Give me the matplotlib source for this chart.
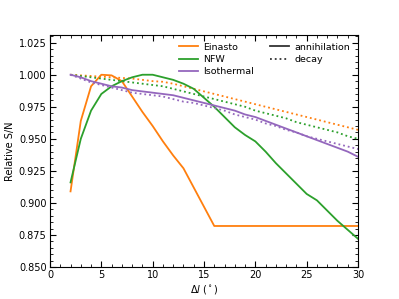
import numpy as np
import matplotlib
matplotlib.use("Agg")
import matplotlib.pyplot as plt
from matplotlib.ticker import MultipleLocator
from matplotlib.lines import Line2D

dl = list(range(2, 31))

einasto_ann = [0.909, 0.964, 0.991, 1.000, 0.9995, 0.995, 0.983, 0.971, 0.960, 0.948,
               0.937, 0.927, 0.912, 0.897, 0.882, 0.882, 0.882, 0.882, 0.882, 0.882,
               0.882, 0.882, 0.882, 0.882, 0.882, 0.882, 0.882, 0.882, 0.882]
nfw_ann = [0.916, 0.950, 0.972, 0.985, 0.991, 0.995, 0.998, 1.000, 1.000, 0.998,
           0.996, 0.993, 0.989, 0.982, 0.975, 0.967, 0.959, 0.953, 0.948, 0.940,
           0.931, 0.923, 0.915, 0.907, 0.902, 0.894, 0.886, 0.879, 0.872]
iso_ann = [1.000, 0.998, 0.995, 0.993, 0.991, 0.990, 0.988, 0.987, 0.986, 0.985,
           0.984, 0.982, 0.980, 0.978, 0.976, 0.974, 0.972, 0.969, 0.967, 0.964,
           0.961, 0.958, 0.955, 0.952, 0.949, 0.946, 0.943, 0.940, 0.936]

einasto_dec = [1.000, 0.9995, 0.999, 0.9985, 0.998, 0.9975, 0.997, 0.996, 0.995, 0.9945,
               0.993, 0.991, 0.989, 0.987, 0.985, 0.983, 0.981, 0.979, 0.977, 0.975,
               0.973, 0.971, 0.969, 0.967, 0.965, 0.963, 0.961, 0.959, 0.957]
nfw_dec = [1.000, 0.999, 0.998, 0.997, 0.996, 0.995, 0.994, 0.993, 0.992, 0.991,
           0.989, 0.987, 0.985, 0.983, 0.981, 0.979, 0.977, 0.975, 0.972, 0.970,
           0.968, 0.966, 0.963, 0.961, 0.959, 0.957, 0.955, 0.952, 0.950]
iso_dec = [1.000, 0.997, 0.994, 0.992, 0.990, 0.988, 0.986, 0.985, 0.984, 0.983,
           0.981, 0.979, 0.978, 0.976, 0.974, 0.972, 0.969, 0.967, 0.965, 0.962,
           0.960, 0.957, 0.955, 0.952, 0.950, 0.948, 0.946, 0.944, 0.942]

profiles = ["Einasto", "NFW", "Isothermal"]
colors = ["#ff7f0e", "#2ca02c", "#9467bd"]
ann = [einasto_ann, nfw_ann, iso_ann]
dec = [einasto_dec, nfw_dec, iso_dec]

plt.rcParams['font.size'] = 7
fig = plt.figure(figsize=(3.99, 2.99), dpi=100)
ax = fig.add_axes([50/399, 1-267/299, 308/399, 232/299])

for name, c, a, d in zip(profiles, colors, ann, dec):
    ax.plot(dl, a, color=c, lw=1.3, ls='-')
    ax.plot(dl, d, color=c, lw=1.3, ls=':')

ax.set_xlim(0, 30)
ax.set_ylim(0.85, 1.031)
ax.xaxis.set_major_locator(MultipleLocator(5))
ax.xaxis.set_minor_locator(MultipleLocator(1))
ax.yaxis.set_major_locator(MultipleLocator(0.025))
ax.yaxis.set_minor_locator(MultipleLocator(0.005))
ax.tick_params(which='both', direction='in', top=True, right=True)
ax.tick_params(which='major', length=4, pad=2.5)
ax.tick_params(which='minor', length=2)
ax.set_xlabel(r"$\Delta l$ ($^\circ$)", labelpad=2)
ax.set_ylabel("Relative S/N", labelpad=3)

handles = [Line2D([], [], color=c, lw=1.3) for c in colors]
handles += [Line2D([], [], color='#333333', lw=1.3, ls='-'),
            Line2D([], [], color='#333333', lw=1.3, ls=':')]
labels = profiles + ["annihilation", "decay"]
ax.legend(handles, labels, ncol=2, frameon=False, loc='upper right',
          fontsize=6.8, handlelength=2.0, handletextpad=0.6,
          columnspacing=1.7, labelspacing=0.35, borderaxespad=0.4)

fig.savefig("out.png", dpi=100)
